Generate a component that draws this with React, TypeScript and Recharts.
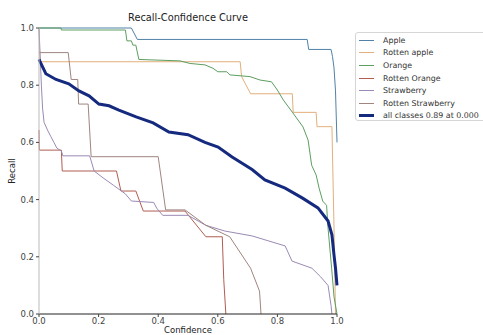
import { LineChart, Line, XAxis, YAxis } from 'recharts';

type Pt = [number, number];

// [confidence, recall] points
const APPLE: Pt[] = [
  [0, 1.0], [0.31, 1.0], [0.33, 0.96], [0.9, 0.96], [0.905, 0.925], [0.98, 0.925],
  [0.985, 0.9], [0.99, 0.86], [0.995, 0.78], [1.0, 0.6],
];
const ROTTEN_APPLE: Pt[] = [
  [0, 1.0], [0.003, 0.882], [0.675, 0.882], [0.68, 0.83], [0.71, 0.77], [0.85, 0.77],
  [0.853, 0.705], [0.93, 0.705], [0.933, 0.655], [0.983, 0.655], [0.99, 0.3], [0.995, 0.0],
];
const ORANGE: Pt[] = [
  [0, 1.0], [0.074, 1.0], [0.075, 0.993], [0.29, 0.993], [0.295, 0.955], [0.31, 0.955],
  [0.315, 0.94], [0.325, 0.94], [0.335, 0.89], [0.473, 0.885], [0.507, 0.876], [0.557, 0.871],
  [0.584, 0.859], [0.6, 0.847], [0.63, 0.847], [0.641, 0.836], [0.708, 0.83], [0.742, 0.818],
  [0.78, 0.812], [0.8, 0.783], [0.82, 0.748], [0.852, 0.703], [0.886, 0.654], [0.903, 0.608],
  [0.915, 0.52], [0.93, 0.486], [0.94, 0.44], [0.952, 0.395], [0.965, 0.38], [0.97, 0.3],
  [0.982, 0.16], [0.99, 0.06], [1.0, 0.0],
];
const ROTTEN_ORANGE: Pt[] = [
  [0, 0.643], [0.001, 0.573], [0.075, 0.573], [0.078, 0.5], [0.26, 0.5], [0.275, 0.43],
  [0.325, 0.43], [0.35, 0.36], [0.49, 0.36], [0.56, 0.27], [0.615, 0.27], [0.62, 0.12], [0.627, 0.0],
];
const STRAWBERRY: Pt[] = [
  [0, 1.0], [0.008, 0.8], [0.012, 0.72], [0.017, 0.67], [0.03, 0.64], [0.04, 0.62], [0.05, 0.6],
  [0.06, 0.58], [0.075, 0.57], [0.08, 0.553], [0.17, 0.553], [0.185, 0.5], [0.215, 0.476],
  [0.25, 0.45], [0.29, 0.42], [0.31, 0.395], [0.385, 0.39], [0.395, 0.37], [0.415, 0.345],
  [0.5, 0.345], [0.56, 0.31], [0.624, 0.29], [0.715, 0.273], [0.826, 0.238], [0.849, 0.185],
  [0.916, 0.16], [0.945, 0.13], [0.97, 0.1], [0.98, 0.03], [0.983, 0.0],
];
const ROTTEN_STRAWBERRY: Pt[] = [
  [0, 0.914], [0.098, 0.914], [0.108, 0.82], [0.13, 0.82], [0.133, 0.734], [0.165, 0.734],
  [0.175, 0.55], [0.4, 0.55], [0.425, 0.364], [0.49, 0.364], [0.56, 0.31], [0.64, 0.27],
  [0.71, 0.16], [0.74, 0.08], [0.745, 0.0],
];
const ALL_CLASSES: Pt[] = [
  [0, 0.89], [0.023, 0.84], [0.057, 0.82], [0.1, 0.805], [0.134, 0.78], [0.168, 0.763],
  [0.201, 0.734], [0.235, 0.728], [0.268, 0.713], [0.326, 0.689], [0.383, 0.668], [0.436, 0.636],
  [0.5, 0.627], [0.557, 0.6], [0.601, 0.584], [0.648, 0.549], [0.715, 0.505], [0.758, 0.469],
  [0.826, 0.44], [0.883, 0.406], [0.936, 0.371], [0.97, 0.325], [0.983, 0.277], [0.99, 0.206],
  [0.995, 0.16], [1.0, 0.1],
];

const TICKS = [0, 0.2, 0.4, 0.6, 0.8, 1.0];

const SERIES = [
  { name: 'Apple', pts: APPLE, color: '#4f82a8', width: 1 },
  { name: 'Rotten apple', pts: ROTTEN_APPLE, color: '#e2b07c', width: 1 },
  { name: 'Orange', pts: ORANGE, color: '#5e9e60', width: 1 },
  { name: 'Rotten Orange', pts: ROTTEN_ORANGE, color: '#b15d52', width: 1 },
  { name: 'Strawberry', pts: STRAWBERRY, color: '#9a8ab4', width: 1 },
  { name: 'Rotten Strawberry', pts: ROTTEN_STRAWBERRY, color: '#a08580', width: 1 },
  { name: 'all classes 0.89 at 0.000', pts: ALL_CLASSES, color: '#152a7e', width: 3 },
];

const FONT = '"DejaVu Sans", sans-serif';
const tickStyle = { fontSize: 8.5, fill: '#444', fontFamily: FONT };

export default function App() {
  return (
    <div style={{ position: 'absolute', left: 0, top: 0, width: 483, height: 335, overflow: 'hidden', background: '#fff', fontFamily: FONT }}>
      <LineChart width={483} height={335} margin={{ top: 28, right: 146, bottom: 0, left: 0 }}>
        <XAxis
          dataKey="x" type="number" domain={[0, 1]} ticks={TICKS} height={21}
          tickFormatter={v => v.toFixed(1)} tick={tickStyle}
          axisLine={{ stroke: '#222' }} tickLine={{ stroke: '#444' }} tickSize={3} tickMargin={1}
        />
        <XAxis xAxisId="top" orientation="top" type="number" domain={[0, 1]} height={0}
          tick={false} tickLine={false} axisLine={{ stroke: '#bbb' }} />
        <YAxis
          type="number" domain={[0, 1]} ticks={TICKS} width={39}
          tickFormatter={v => v.toFixed(1)} tick={tickStyle}
          axisLine={{ stroke: '#bbb' }} tickLine={{ stroke: '#444' }} tickSize={3} tickMargin={2}
        />
        <YAxis yAxisId="right" orientation="right" type="number" domain={[0, 1]} width={0}
          tick={false} tickLine={false} axisLine={{ stroke: '#999' }} />
        {SERIES.map(s => (
          <Line
            key={s.name}
            data={s.pts.map(([x, y]) => ({ x, y }))}
            dataKey="y" name={s.name} type="linear" stroke={s.color} strokeWidth={s.width}
            dot={false} activeDot={false} isAnimationActive={false}
          />
        ))}
      </LineChart>

      <div style={{ position: 'absolute', left: 39, width: 298, top: 12, textAlign: 'center', fontSize: 9.8, color: '#222', lineHeight: '12px' }}>
        Recall-Confidence Curve
      </div>
      <div style={{ position: 'absolute', left: 39, width: 298, top: 325, textAlign: 'center', fontSize: 8.5, color: '#222', lineHeight: '10px' }}>
        Confidence
      </div>
      <div style={{ position: 'absolute', left: 12, top: 171, transform: 'translate(-50%, -50%) rotate(-90deg)', fontSize: 8.5, color: '#222', lineHeight: '10px', whiteSpace: 'nowrap' }}>
        Recall
      </div>

      <div style={{ position: 'absolute', left: 355, top: 32, width: 140, height: 89, border: '1px solid #d6d6d6', borderRadius: 3, boxSizing: 'border-box', padding: '1px 0 0 0' }}>
        {SERIES.map(s => (
          <div key={s.name} style={{ display: 'flex', alignItems: 'center', height: 12.6, fontSize: 7.9, color: '#333', whiteSpace: 'nowrap' }}>
            <span style={{ display: 'inline-block', marginLeft: 3, width: 15, height: s.width === 3 ? 3 : 1, background: s.color }} />
            <span style={{ marginLeft: 9 }}>{s.name}</span>
          </div>
        ))}
      </div>
    </div>
  );
}
